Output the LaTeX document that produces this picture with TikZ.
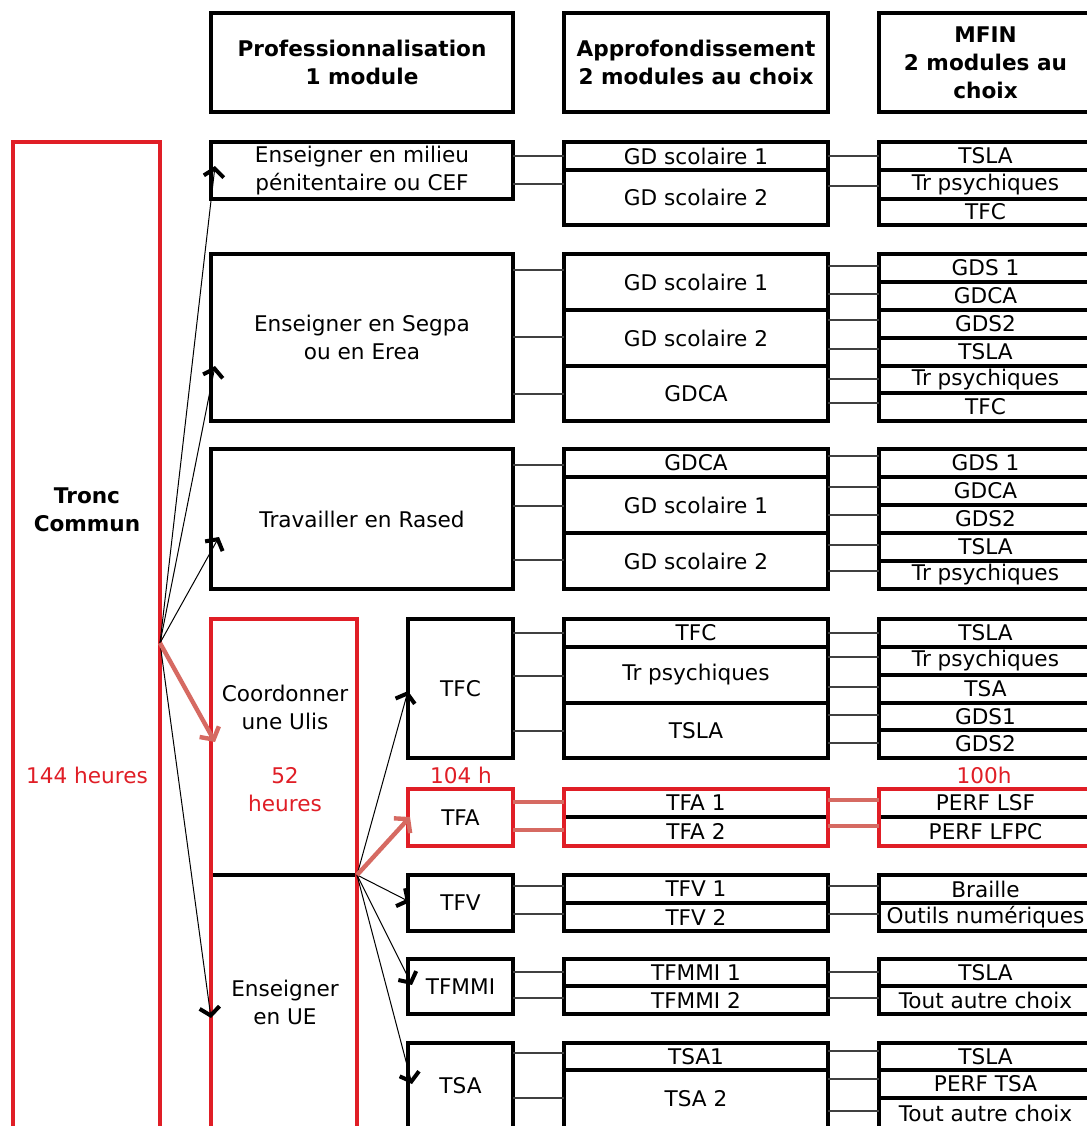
\documentclass[tikz,border=0pt]{standalone}
\usepackage{fontspec}
\setmainfont{DejaVu Sans}
\usetikzlibrary{arrows.meta}
\definecolor{rd}{RGB}{224,30,38}
\definecolor{salm}{RGB}{214,106,98}
\newcommand{\mybox}[7][]{\node[box,#1,minimum width={(#5-#3)*0.5pt},minimum height={(#6-#4)*0.5pt},anchor=north west] (#2) at (#3,#4) {#7};}
\newcommand{\cn}[4][conn]{\draw[#1] (#2.east |- 0,#4) -- (#3.west |- 0,#4);}
\begin{document}
\begin{tikzpicture}[x=0.5pt,y=-0.5pt,font=\fontsize{10.8}{14}\selectfont,
  box/.style={draw=black,line width=1.6pt,inner sep=0pt,outer sep=0pt,align=center,fill=white},
  rbox/.style={draw=rd,line width=2.4pt},
  plain/.style={draw=none,fill=none},
  hdr/.style={font=\fontsize{10.8}{14}\selectfont\bfseries},
  lbl/.style={inner sep=0pt,align=center},
  redtxt/.style={lbl,text=rd},
  conn/.style={black!75,line width=0.8pt},
  rconn/.style={salm,line width=2.2pt},
  arr/.style={black,line width=0.5pt,-{Straight Barb[length=4pt,width=10pt,line width=2pt]}},
  rarr/.style={salm,line width=2.2pt,-{Straight Barb[length=4.5pt,width=11pt,line width=2.2pt]}}]
\useasboundingbox (0,0) rectangle (1087,1126);
\clip (0,0) rectangle (1087,1126);
% headers
\mybox[hdr]{h1}{211}{13}{513}{112}{Professionnalisation\\1 module}
\mybox[hdr]{h2}{564}{13}{828}{112}{Approfondissement\\2 modules au choix}
\mybox[hdr]{h3}{879}{13}{1092}{112}{MFIN\\2 modules au\\choix}
% tronc commun
\mybox[rbox]{tronc}{13}{142}{160}{1132}{}
\node[lbl,font=\fontsize{10.8}{14}\selectfont\bfseries] (troncl) at (87,510) {Tronc\\Commun};
\node[redtxt] (tronch) at (87,775) {144 heures};
% group 1
\mybox{p1}{211}{142}{513}{199}{Enseigner en milieu\\pénitentaire ou CEF}
\mybox{a1a}{564}{142}{828}{170}{GD scolaire 1}
\mybox{a1b}{564}{170}{828}{225}{GD scolaire 2}
\mybox{m1a}{879}{142}{1092}{170}{TSLA}
\mybox{m1b}{879}{170}{1092}{199}{Tr psychiques}
\mybox{m1c}{879}{199}{1092}{225}{TFC}
\cn{p1}{a1a}{156}\cn{p1}{a1b}{184}
\cn{a1a}{m1a}{156}\cn{a1b}{m1b}{186}
% group 2
\mybox{p2}{211}{254}{513}{421}{Enseigner en Segpa\\ou en Erea}
\mybox{a2a}{564}{254}{828}{310}{GD scolaire 1}
\mybox{a2b}{564}{310}{828}{366}{GD scolaire 2}
\mybox{a2c}{564}{366}{828}{421}{GDCA}
\mybox{m2a}{879}{254}{1092}{282}{GDS 1}
\mybox{m2b}{879}{282}{1092}{310}{GDCA}
\mybox{m2c}{879}{310}{1092}{338}{GDS2}
\mybox{m2d}{879}{338}{1092}{366}{TSLA}
\mybox{m2e}{879}{366}{1092}{393}{Tr psychiques}
\mybox{m2f}{879}{393}{1092}{421}{TFC}
\cn{p2}{a2a}{270}\cn{p2}{a2b}{337}\cn{p2}{a2c}{394}
\cn{a2a}{m2a}{266}\cn{a2a}{m2b}{294}\cn{a2b}{m2c}{320}
\cn{a2b}{m2d}{349}\cn{a2c}{m2e}{379}\cn{a2c}{m2f}{403}
% group 3
\mybox{p3}{211}{449}{513}{589}{Travailler en Rased}
\mybox{a3a}{564}{449}{828}{477}{GDCA}
\mybox{a3b}{564}{477}{828}{533}{GD scolaire 1}
\mybox{a3c}{564}{533}{828}{589}{GD scolaire 2}
\mybox{m3a}{879}{449}{1092}{477}{GDS 1}
\mybox{m3b}{879}{477}{1092}{505}{GDCA}
\mybox{m3c}{879}{505}{1092}{533}{GDS2}
\mybox{m3d}{879}{533}{1092}{561}{TSLA}
\mybox{m3e}{879}{561}{1092}{589}{Tr psychiques}
\cn{p3}{a3a}{465}\cn{p3}{a3b}{506}\cn{p3}{a3c}{560}
\cn{a3a}{m3a}{456}\cn{a3b}{m3b}{487}\cn{a3b}{m3c}{515}
\cn{a3c}{m3d}{545}\cn{a3c}{m3e}{571}
% Ulis / UE
\mybox[rbox]{ulis}{211}{619}{357}{875}{}
\mybox[rbox]{ue}{211}{875}{357}{1132}{}
\draw[black,line width=1.6pt] ([xshift=1.2pt]ulis.south west) -- ([xshift=-1.2pt]ulis.south east);
\node[lbl] (ulisl) at (285,707) {Coordonner\\une Ulis};
\node[redtxt] (ulish) at (285,790) {52\\heures};
\node[lbl] (uel) at (285,1002) {Enseigner\\en UE};
% TFC
\mybox{tfc}{408}{619}{513}{758}{TFC}
\mybox{a4a}{564}{619}{828}{647}{TFC}
\mybox{a4b}{564}{647}{828}{703}{Tr psychiques}
\mybox{a4c}{564}{703}{828}{758}{TSLA}
\mybox{m4a}{879}{619}{1092}{647}{TSLA}
\mybox{m4b}{879}{647}{1092}{675}{Tr psychiques}
\mybox{m4c}{879}{675}{1092}{703}{TSA}
\mybox{m4d}{879}{703}{1092}{730}{GDS1}
\mybox{m4e}{879}{730}{1092}{758}{GDS2}
\cn{tfc}{a4a}{633}\cn{tfc}{a4b}{676}\cn{tfc}{a4c}{731}
\cn{a4a}{m4a}{633}\cn{a4b}{m4b}{657}\cn{a4b}{m4c}{687}
\cn{a4c}{m4d}{715}\cn{a4c}{m4e}{743}
\node[redtxt] (h104) at (461,775) {104 h};
\node[redtxt] (h100) at (984,775) {100h};
% TFA
\mybox[rbox]{tfa}{408}{789}{513}{846}{TFA}
\mybox[rbox]{a5}{564}{789}{828}{846}{}
\mybox[plain]{a5a}{564}{789}{828}{817}{TFA 1}
\mybox[plain]{a5b}{564}{817}{828}{846}{TFA 2}
\draw[black,line width=1.6pt] ([xshift=1.2pt]a5a.south west) -- ([xshift=-1.2pt]a5a.south east);
\mybox[rbox]{m5}{879}{789}{1092}{846}{}
\mybox[plain]{m5a}{879}{789}{1092}{817}{PERF LSF}
\mybox[plain]{m5b}{879}{817}{1092}{846}{PERF LFPC}
\draw[black,line width=1.6pt] ([xshift=1.2pt]m5a.south west) -- ([xshift=-1.2pt]m5a.south east);
\cn[rconn]{tfa}{a5}{802}\cn[rconn]{tfa}{a5}{830}
\cn[rconn]{a5}{m5}{800}\cn[rconn]{a5}{m5}{826}
% TFV
\mybox{tfv}{408}{875}{513}{931}{TFV}
\mybox{a6a}{564}{875}{828}{903}{TFV 1}
\mybox{a6b}{564}{903}{828}{931}{TFV 2}
\mybox{m6a}{879}{875}{1092}{903}{Braille}
\mybox{m6b}{879}{903}{1092}{931}{Outils numériques}
\cn{tfv}{a6a}{886}\cn{tfv}{a6b}{914}
\cn{a6a}{m6a}{886}\cn{a6b}{m6b}{914}
% TFMMI
\mybox{tfm}{408}{959}{513}{1014}{TFMMI}
\mybox{a7a}{564}{959}{828}{986}{TFMMI 1}
\mybox{a7b}{564}{986}{828}{1014}{TFMMI 2}
\mybox{m7a}{879}{959}{1092}{986}{TSLA}
\mybox{m7b}{879}{986}{1092}{1014}{Tout autre choix}
\cn{tfm}{a7a}{972}\cn{tfm}{a7b}{998}
\cn{a7a}{m7a}{972}\cn{a7b}{m7b}{998}
% TSA
\mybox{tsa}{408}{1043}{513}{1128}{TSA}
\mybox{a8a}{564}{1043}{828}{1070}{TSA1}
\mybox{a8b}{564}{1070}{828}{1128}{TSA 2}
\mybox{m8a}{879}{1043}{1092}{1070}{TSLA}
\mybox{m8b}{879}{1070}{1092}{1098}{PERF TSA}
\mybox{m8c}{879}{1098}{1092}{1128}{Tout autre choix}
\cn{tsa}{a8a}{1053}\cn{tsa}{a8b}{1098}
\cn{a8a}{m8a}{1051}\cn{a8b}{m8b}{1079}\cn{a8b}{m8c}{1111}
% arrows from Tronc Commun
\coordinate (tj) at (tronc.east |- 0,643);
\draw[arr] (tj) -- ([xshift=2pt]p1.west |- 0,166);
\draw[arr] (tj) -- ([xshift=2pt]p2.west |- 0,366);
\draw[arr] (tj) -- ([xshift=4pt]p3.west |- 0,537);
\draw[arr] (tj) -- (ue.west |- 0,1018);
\draw[rarr] (tj) -- ([xshift=2pt]ulis.west |- 0,742);
% arrows from Ulis
\coordinate (uj) at (ulis.south east);
\draw[arr] (uj) -- (tfc.west |- 0,691);
\draw[arr] (uj) -- ([xshift=1pt]tfv.west |- 0,902);
\draw[arr] (uj) -- ([xshift=2pt]tfm.west |- 0,985);
\draw[arr] (uj) -- ([xshift=2pt]tsa.west |- 0,1084);
\draw[rarr] (uj) -- ([xshift=1pt]tfa.west |- 0,817);
\end{tikzpicture}
\end{document}
